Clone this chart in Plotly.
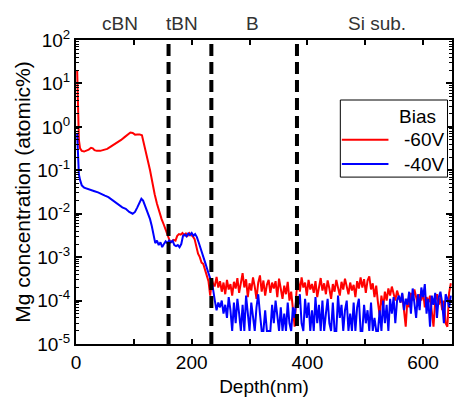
import plotly.graph_objects as go

# ---------------- data ----------------
# near-surface / layered part (depth in nm, Mg concentration in atomic%)
red_head_depth = [2, 3, 4, 5, 7, 10, 14, 18, 22, 26, 29, 32, 36, 42, 48, 54, 60, 66, 72, 78,
                  84, 90, 94, 98, 102, 106, 110, 114, 117, 120, 124, 128, 132, 136, 140, 144,
                  148, 152, 156, 160, 163, 166, 169, 172, 175, 178, 181, 184, 187, 190, 193,
                  196, 199, 202, 205, 208, 211, 214, 217, 220, 223, 226, 229, 232, 235, 238]
red_head_conc = [20, 3.0, 1.0, 0.5, 0.32, 0.28, 0.27, 0.28, 0.30, 0.33, 0.32, 0.29, 0.28, 0.28,
                 0.29, 0.31, 0.35, 0.39, 0.44, 0.50, 0.58, 0.68, 0.74, 0.72, 0.66, 0.67, 0.67,
                 0.64, 0.45, 0.30, 0.17, 0.10, 0.05, 0.028, 0.017, 0.011, 0.0075, 0.0055,
                 0.0038, 0.0026, 0.0022, 0.0023, 0.0025, 0.0024, 0.0031, 0.0034, 0.0033,
                 0.0036, 0.0032, 0.0035, 0.0031, 0.0036, 0.0033, 0.0030, 0.0026, 0.0016,
                 0.0012, 0.0010, 0.00075, 0.0007, 0.00048, 0.00038, 0.00028, 0.00013,
                 0.00030, 0.00022]

blue_head_depth = [2, 3, 4, 5, 7, 10, 14, 20, 26, 32, 38, 44, 50, 56, 62, 68, 74, 80, 86,
                   92, 98, 102, 106, 110, 113, 116, 119, 122, 125, 128, 131, 134, 137, 140,
                   143, 146, 149, 152, 155, 158, 161, 164, 167, 170, 173, 176, 179, 182, 185,
                   188, 191, 194, 197, 200, 203, 206, 209, 212, 215, 218, 221, 224, 227, 230,
                   233, 236]
blue_head_conc = [0.7, 0.3, 0.12, 0.08, 0.06, 0.045, 0.040, 0.038, 0.035, 0.033, 0.031,
                  0.028, 0.026, 0.024, 0.021, 0.018, 0.016, 0.014, 0.013, 0.011, 0.010, 0.011,
                  0.014, 0.019, 0.022, 0.020, 0.016, 0.012, 0.0095, 0.0075, 0.0052, 0.0035,
                  0.0021, 0.0024, 0.0019, 0.0022, 0.0017, 0.0020, 0.0023, 0.0021, 0.0024,
                  0.0022, 0.0024, 0.0019, 0.0018, 0.0019, 0.0017, 0.0020, 0.0031, 0.0033,
                  0.0030, 0.0035, 0.0032, 0.0036, 0.0031, 0.0034, 0.0029, 0.0022, 0.0016,
                  0.0012, 0.0009, 0.0007, 0.00052, 0.0004, 0.00028, 0.00022]

# deep (noisy) part, sampled every 3 nm from 240 nm
tail_depth = list(range(240, 651, 3))
red_tail_conc = [
    2.2e-4, 3.5e-4, 2.0e-4, 2.8e-4, 1.6e-4, 2.6e-4, 1.4e-4, 3.0e-4, 1.8e-4, 2.4e-4,
    1.3e-4, 2.7e-4, 1.9e-4, 3.3e-4, 1.5e-4, 2.9e-4, 4.3e-4, 2.0e-4, 3.1e-4, 1.2e-4,
    2.5e-4, 1.7e-4, 3.4e-4, 2.1e-4, 1.1e-4, 2.6e-4, 3.8e-4, 1.6e-4, 2.9e-4, 1.3e-4,
    2.3e-4, 3.0e-4, 1.5e-4, 2.6e-4, 1.9e-4, 2.8e-4, 1.2e-4, 3.2e-4, 1.7e-4, 1.1e-4,
    2.2e-4, 1.4e-4, 2.7e-4, 1.0e-4, 1.6e-4, 0.6e-4, 0.25e-4, 1.5e-4, 2.9e-4, 1.6e-4,
    3.4e-4, 2.0e-4, 2.6e-4, 1.3e-4, 3.0e-4, 1.8e-4, 2.4e-4, 1.5e-4, 2.8e-4, 1.2e-4,
    2.2e-4, 3.3e-4, 1.7e-4, 2.5e-4, 1.4e-4, 2.9e-4, 1.9e-4, 1.1e-4, 2.4e-4, 1.6e-4,
    3.0e-4, 2.0e-4, 1.3e-4, 2.7e-4, 1.8e-4, 3.2e-4, 2.2e-4, 1.4e-4, 2.6e-4, 1.7e-4,
    2.3e-4, 1.2e-4, 2.8e-4, 1.9e-4, 3.4e-4, 2.0e-4, 3.1e-4, 1.5e-4, 2.9e-4, 3.6e-4,
    1.8e-4, 2.5e-4, 1.2e-4, 2.2e-4, 0.9e-4, 0.45e-4, 1.3e-4, 0.7e-4, 1.6e-4, 1.0e-4,
    1.9e-4, 1.3e-4, 2.1e-4, 1.5e-4, 1.0e-4, 1.7e-4, 1.2e-4, 0.9e-4, 1.4e-4, 0.5e-4,
    0.25e-4, 1.1e-4, 0.7e-4, 1.5e-4, 1.0e-4, 1.8e-4, 1.2e-4, 0.8e-4, 1.4e-4, 1.0e-4,
    1.6e-4, 0.7e-4, 1.2e-4, 0.9e-4, 1.3e-4, 0.6e-4, 0.25e-4, 1.0e-4, 1.4e-4, 0.8e-4,
    1.2e-4, 0.6e-4, 1.0e-4, 0.3e-4, 0.25e-4, 1.5e-4, 2.5e-4]
blue_tail_conc = [
    1.0e-4, 0.6e-4, 0.9e-4, 0.7e-4, 1.0e-4, 0.5e-4, 0.8e-4, 0.4e-4, 1.2e-4, 0.6e-4,
    0.2e-4, 0.9e-4, 0.3e-4, 1.1e-4, 0.5e-4, 0.2e-4, 0.8e-4, 0.2e-4, 1.3e-4, 0.6e-4,
    0.2e-4, 0.9e-4, 0.4e-4, 0.2e-4, 0.7e-4, 1.4e-4, 0.5e-4, 0.2e-4, 0.2e-4, 0.6e-4,
    0.2e-4, 0.2e-4, 0.2e-4, 0.8e-4, 0.3e-4, 1.0e-4, 0.4e-4, 0.2e-4, 0.7e-4, 0.2e-4,
    0.5e-4, 0.2e-4, 0.9e-4, 0.3e-4, 0.2e-4, 0.7e-4, 0.4e-4, 1.2e-4, 0.8e-4, 1.4e-4,
    0.3e-4, 0.2e-4, 1.1e-4, 0.4e-4, 0.9e-4, 0.2e-4, 0.6e-4, 0.2e-4, 1.2e-4, 0.3e-4,
    0.8e-4, 0.2e-4, 1.0e-4, 0.2e-4, 0.5e-4, 1.1e-4, 0.3e-4, 0.2e-4, 0.9e-4, 0.2e-4,
    0.2e-4, 1.3e-4, 0.4e-4, 0.8e-4, 0.2e-4, 0.6e-4, 1.0e-4, 0.2e-4, 0.5e-4, 0.2e-4,
    0.9e-4, 0.2e-4, 0.7e-4, 1.1e-4, 0.2e-4, 0.2e-4, 0.8e-4, 0.3e-4, 0.6e-4, 0.2e-4,
    0.9e-4, 0.2e-4, 0.4e-4, 0.2e-4, 0.2e-4, 0.6e-4, 0.2e-4, 1.0e-4, 0.3e-4, 0.8e-4,
    0.2e-4, 1.1e-4, 0.5e-4, 1.2e-4, 0.3e-4, 1.0e-4, 1.3e-4, 0.9e-4, 1.5e-4, 0.6e-4,
    1.1e-4, 0.8e-4, 1.6e-4, 0.5e-4, 1.9e-4, 1.0e-4, 0.4e-4, 1.4e-4, 0.6e-4, 2.0e-4,
    1.2e-4, 2.4e-4, 0.5e-4, 1.1e-4, 0.25e-4, 1.3e-4, 0.8e-4, 1.5e-4, 0.4e-4, 1.2e-4,
    1.6e-4, 0.9e-4, 0.3e-4, 1.4e-4, 1.1e-4, 0.7e-4, 1.3e-4]

series_names = ["-60V", "-40V"]
series_colors = ["#ff0000", "#0000ff"]
legend_title = "Bias"

layer_boundaries = [160, 234, 382]
layer_names = ["cBN", "tBN", "B", "Si sub."]
layer_label_depths = [76, 183, 305, 520]

y_tick_values = [1e-5, 1e-4, 1e-3, 1e-2, 1e-1, 1e0, 1e1, 1e2]
y_tick_labels = ["10<sup>-5</sup>", "10<sup>-4</sup>", "10<sup>-3</sup>", "10<sup>-2</sup>",
                 "10<sup>-1</sup>", "10<sup>0</sup>", "10<sup>1</sup>", "10<sup>2</sup>"]

# ---------------- figure ----------------
FONT = "Liberation Sans, Arial, sans-serif"
fig = go.Figure()

fig.add_trace(go.Scatter(x=red_head_depth + tail_depth, y=red_head_conc + red_tail_conc,
                         mode="lines", name=series_names[0], showlegend=False,
                         line=dict(color=series_colors[0], width=2)))
fig.add_trace(go.Scatter(x=blue_head_depth + tail_depth, y=blue_head_conc + blue_tail_conc,
                         mode="lines", name=series_names[1], showlegend=False,
                         line=dict(color=series_colors[1], width=2)))

for xb in layer_boundaries:
    fig.add_shape(type="line", xref="x", yref="paper", x0=xb, x1=xb, y0=0, y1=1,
                  line=dict(color="black", width=4, dash="12px,6px"), layer="above")

for name, xd in zip(layer_names, layer_label_depths):
    fig.add_annotation(x=xd, y=1.053, xref="x", yref="paper", text=name, showarrow=False,
                       font=dict(family=FONT, size=19, color="#333333"),
                       xanchor="center", yanchor="middle")

# legend box (drawn in paper coordinates)
LX0, LX1, LY0, LY1 = 0.703, 0.988, 0.549, 0.8026
fig.add_shape(type="rect", xref="paper", yref="paper", x0=LX0, x1=LX1, y0=LY0, y1=LY1,
              line=dict(color="black", width=1), fillcolor="white", layer="above")
fig.add_annotation(x=0.963, y=0.747, xref="paper", yref="paper", text=legend_title,
                   showarrow=False, xanchor="right", yanchor="middle",
                   font=dict(family=FONT, size=19, color="black"))
for name, col, yy in zip(series_names, series_colors, [0.672, 0.592]):
    fig.add_shape(type="line", xref="paper", yref="paper", x0=0.707, x1=0.831, y0=yy, y1=yy,
                  line=dict(color=col, width=2), layer="above")
    fig.add_annotation(x=0.866, y=yy, xref="paper", yref="paper", text=name,
                       showarrow=False, xanchor="left", yanchor="middle",
                       font=dict(family=FONT, size=19, color="black"))

fig.update_layout(
    width=456, height=403,
    margin=dict(l=76, r=4, t=40, b=59, autoexpand=False),
    paper_bgcolor="white", plot_bgcolor="white",
    font=dict(family=FONT, size=19, color="black"),
    showlegend=False,
)

fig.update_xaxes(
    range=[0, 650], tickmode="linear", tick0=0, dtick=200, automargin=False,
    ticks="inside", ticklen=5, tickwidth=1.5, tickcolor="black",
    minor=dict(ticks="inside", dtick=100, tick0=0, ticklen=5, tickwidth=1.5, tickcolor="black"),
    showline=True, linewidth=2, linecolor="black", mirror="allticks",
    showgrid=False, zeroline=False,
    tickfont=dict(family=FONT, size=19, color="black"),
    title=dict(text="Depth(nm)", font=dict(family=FONT, size=19, color="black"), standoff=8),
)
fig.update_yaxes(
    type="log", range=[-5, 2], automargin=False,
    tickmode="array", tickvals=y_tick_values, ticktext=y_tick_labels,
    ticks="inside", ticklen=6, tickwidth=1.5, tickcolor="black",
    minor=dict(ticks="inside", tickmode="linear", dtick="D1", ticklen=3, tickwidth=1,
               tickcolor="black"),
    showline=True, linewidth=2, linecolor="black", mirror="allticks",
    showgrid=False, zeroline=False,
    tickfont=dict(family=FONT, size=19, color="black"),
    title=dict(text="Mg concentration (atomic%)",
               font=dict(family=FONT, size=21, color="black"), standoff=1),
)

fig.write_html("out.html", config={"displayModeBar": False},
               post_script="document.body.style.margin='0';")
